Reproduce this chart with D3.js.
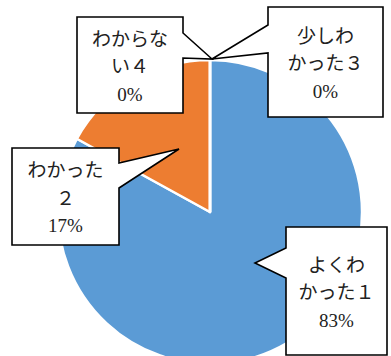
<!DOCTYPE html>
<html>
<head>
<meta charset="utf-8">
<script src="https://cdn.jsdelivr.net/npm/d3@7"></script>
<style>
  body { margin: 0; background: white; }
  svg { display: block; }
</style>
</head>
<body>
<svg id="svg" width="391" height="356"></svg>
<script>
// data
var categories = ["よくわかった１", "わかった２", "少しわかった３", "わからない４"];
var values = [83, 17, 0, 0];
// line breaks as they wrap in the callouts
var labelLines = [["よくわ", "かった１"], ["わかった", "２"], ["少しわ", "かった３"], ["わからな", "い４"]];
var colors = ["#5B9BD5", "#ED7D31", "#A5A5A5", "#FFC000"];

const svg = d3.select('#svg');
var cx = 210, cy = 212, radius = 152;

var total = d3.sum(values);
var pie = d3.pie().sort(null).value(function(d){ return d; });
var arc = d3.arc().innerRadius(0).outerRadius(radius);

var g = svg.append("g").attr("transform", "translate(" + cx + "," + cy + ")");
g.selectAll("path")
  .data(pie(values))
  .enter().append("path")
  .attr("d", arc)
  .style("fill", function(d, i){ return colors[i]; })
  .style("stroke", "white")
  .style("stroke-width", 2.5)
  .style("stroke-linejoin", "round");

// callout boxes: rect, side with pointer, pointer base, tip
var callouts = [
  {x0: 286, y0: 227, x1: 387, y1: 355, side: "left",  b0: 248, b1: 278, tx: 255, ty: 263},
  {x0: 12,  y0: 148, x1: 119, y1: 245, side: "right", b0: 163, b1: 188, tx: 179, ty: 149},
  {x0: 268, y0: 7,   x1: 383, y1: 117, side: "left",  b0: 25,  b1: 53,  tx: 212, ty: 59},
  {x0: 77,  y0: 17,  x1: 183, y1: 113, side: "right", b0: 33,  b1: 58,  tx: 212, ty: 59}
];

function calloutPath(c) {
  var p = d3.path();
  p.moveTo(c.x0, c.y0);
  p.lineTo(c.x1, c.y0);
  if (c.side == "right") {
    p.lineTo(c.x1, c.b0);
    p.lineTo(c.tx, c.ty);
    p.lineTo(c.x1, c.b1);
  }
  p.lineTo(c.x1, c.y1);
  p.lineTo(c.x0, c.y1);
  if (c.side == "left") {
    p.lineTo(c.x0, c.b1);
    p.lineTo(c.tx, c.ty);
    p.lineTo(c.x0, c.b0);
  }
  p.closePath();
  return p.toString();
}

var lineGap = 27.5;
callouts.forEach(function(c, i) {
  svg.append("path")
    .attr("d", calloutPath(c))
    .style("fill", "white")
    .style("stroke", "black")
    .style("stroke-width", 1.6)
    .style("stroke-linejoin", "miter");

  var lines = labelLines[i].concat([Math.round(values[i] / total * 100) + "%"]);
  var mid = (c.y0 + c.y1) / 2 + 8;
  var xc = (c.x0 + c.x1) / 2;
  lines.forEach(function(t, j) {
    svg.append("text")
      .attr("x", xc)
      .attr("y", mid + (j - 1) * lineGap)
      .attr("text-anchor", "middle")
      .style("font-family", "'Liberation Serif', 'Noto Sans CJK JP', serif")
      .style("font-size", "19px")
      .style("fill", "#222")
      .text(t);
  });
});
</script>
</body>
</html>
